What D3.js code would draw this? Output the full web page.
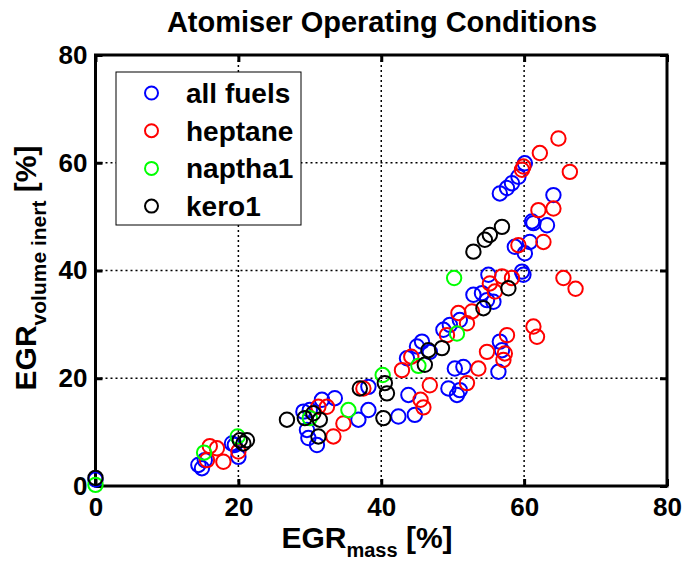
<!DOCTYPE html>
<html>
<head>
<meta charset="utf-8">
<script src="https://cdn.jsdelivr.net/npm/d3@7"></script>
<style>
  html, body { margin: 0; padding: 0; background: #fff; }
  svg text { font-family: Arial, "Liberation Sans", Helvetica, sans-serif; font-weight: bold; }
</style>
</head>
<body>
<svg id="chart" width="684" height="565"></svg>
<script>
// ---------------- data ----------------
const title = "Atomiser Operating Conditions";
const xTicks = [0, 20, 40, 60, 80];
const yTicks = [0, 20, 40, 60, 80];
const seriesNames = ["all fuels", "heptane", "naptha1", "kero1"];
const seriesColors = ["#0000ff", "#ff0000", "#00ff00", "#000000"];

const allFuels = [
  [0,1.2],
  [14.4,3.9],[14.9,3.3],[15.3,4.8],[19.5,7.6],[20.0,5.4],[19.1,7.9],
  [29.1,13.8],[30.0,14.1],[31.7,16.0],[33.5,16.3],
  [29.6,10.4],[29.8,8.9],[31.0,7.6],
  [36.8,12.3],[38.2,14.1],[42.4,12.9],[43.8,16.9],[44.7,13.2],
  [38.2,18.4],[45.0,25.9],[43.6,23.7],[45.7,26.8],[46.8,24.9],
  [49.4,18.1],[50.6,16.9],[51.0,17.8],[50.3,21.8],[51.5,22.1],[56.4,21.2],[56.6,26.8],[56.9,25.2],
  [48.7,29.0],[49.6,29.9],[51.0,30.8],[52.9,35.5],[54.1,35.8],[54.8,34.5],[55.7,34.2],[55.0,39.2],[59.9,39.2],
  [60.1,59.9],[59.2,57.4],[58.3,56.2],[57.6,55.3],[56.6,54.3],[64.1,54.0],
  [61.1,49.1],[61.3,48.8],[63.2,48.4],[60.8,45.3],[58.7,44.4],[60.1,43.2],[59.7,39.8]
];
const heptane = [
  [15.6,4.8],[16.0,7.4],[17.0,7.0],[17.9,4.5],[20.0,6.4],
  [31.2,14.7],[32.4,14.7],[33.3,9.2],[34.7,11.6],
  [37.5,18.1],[42.9,21.5],[44.2,24.0],
  [45.5,16.0],[45.9,14.6],[46.8,18.7],
  [52.0,19.1],[53.6,21.8],[54.8,24.9],[57.1,23.4],[57.3,24.6],[57.6,28.0],
  [49.2,28.0],[50.8,32.1],[52.0,30.2],[52.7,32.4],[55.2,37.6],[55.9,36.1],[56.9,38.9],[58.3,38.6],
  [61.3,29.6],[61.8,27.7],
  [64.8,64.5],[62.2,61.8],[66.4,58.3],[59.9,59.3],[59.7,58.7],[62.0,51.2],[64.1,51.5],
  [59.2,44.7],[62.7,45.3],[65.5,38.6],[67.2,36.6]
];
const naptha1 = [
  [0,0.2],[15.2,6.2],[19.9,9.2],[30.0,12.6],[35.4,14.1],[40.2,20.6],[45.2,22.3],[50.6,28.3],[50.2,38.6]
];
const kero1 = [
  [0,1.5],[20.2,8.5],[21.2,8.5],[20.7,7.9],
  [26.8,12.3],[29.3,12.6],[30.5,13.5],[31.4,12.3],[31.2,9.2],
  [37.0,18.1],[40.5,19.1],[40.8,17.2],[40.3,12.6],
  [46.1,22.5],[46.6,25.2],[48.5,25.6],[54.3,33.0],[57.8,36.7],
  [56.9,48.1],[55.2,46.6],[54.5,45.7],[52.9,43.5]
];
const seriesData = [allFuels, heptane, naptha1, kero1];

// ---------------- layout ----------------
const L = 95.5, R = 667, T = 55, B = 486;
const svg = d3.select("#chart");
const x = d3.scaleLinear().domain([0, 80]).range([L, R]);
const y = d3.scaleLinear().domain([0, 80]).range([B, T]);

// grid
const grid = svg.append("g");
grid.selectAll(".gx").data(xTicks.slice(1, -1)).enter().append("line")
  .attr("x1", d => x(d)).attr("x2", d => x(d)).attr("y1", T).attr("y2", B)
  .attr("stroke", "#000").attr("stroke-width", 1.5).attr("stroke-dasharray", "2,3");
grid.selectAll(".gy").data(yTicks.slice(1, -1)).enter().append("line")
  .attr("y1", d => y(d)).attr("y2", d => y(d)).attr("x1", L).attr("x2", R)
  .attr("stroke", "#000").attr("stroke-width", 1.5).attr("stroke-dasharray", "2,3");

// axes
function styleAxis(g) {
  g.select(".domain").remove();
  g.selectAll(".tick line").attr("stroke", "#000").attr("stroke-width", 3);
  g.selectAll(".tick text").attr("fill", "#000").style("font-size", "26px")
    .style("font-family", "Arial, 'Liberation Sans', sans-serif").style("font-weight", "bold");
}
svg.append("g").attr("transform", `translate(0,${B})`)
  .call(d3.axisBottom(x).tickValues(xTicks).tickSize(-7).tickPadding(12).tickFormat(d3.format("d")))
  .call(styleAxis);
svg.append("g").attr("transform", `translate(${L},0)`)
  .call(d3.axisLeft(y).tickValues(yTicks).tickSize(-7).tickPadding(8).tickFormat(d3.format("d")))
  .call(styleAxis);
svg.append("g").attr("transform", `translate(0,${T})`)
  .call(d3.axisTop(x).tickValues(xTicks).tickSize(-7).tickFormat(""))
  .call(styleAxis);
svg.append("g").attr("transform", `translate(${R},0)`)
  .call(d3.axisRight(y).tickValues(yTicks).tickSize(-7).tickFormat(""))
  .call(styleAxis);

// frame
svg.append("rect").attr("x", L).attr("y", T).attr("width", R - L).attr("height", B - T)
  .attr("fill", "none").attr("stroke", "#000").attr("stroke-width", 3);

// points
seriesData.forEach((data, i) => {
  svg.append("g").selectAll("circle").data(data).enter().append("circle")
    .attr("cx", d => x(d[0])).attr("cy", d => y(d[1])).attr("r", 7.2)
    .attr("fill", "none").attr("stroke", seriesColors[i]).attr("stroke-width", 2);
});

// legend
const lg = svg.append("g");
lg.append("rect").attr("x", 116).attr("y", 72).attr("width", 185).attr("height", 153)
  .attr("fill", "#fff").attr("stroke", "#000").attr("stroke-width", 1);
seriesNames.forEach((name, i) => {
  const cy = 93 + i * 37.7;
  lg.append("circle").attr("cx", 151.5).attr("cy", cy).attr("r", 6.5)
    .attr("fill", "none").attr("stroke", seriesColors[i]).attr("stroke-width", 2);
  lg.append("text").attr("x", 186).attr("y", cy + 10).style("font-size", "28px")
    .attr("fill", "#000").text(name);
});

// title
svg.append("text").attr("x", 382).attr("y", 32).attr("text-anchor", "middle")
  .style("font-size", "29px").attr("fill", "#000").text(title);

// x label
const xl = svg.append("text").attr("x", 367).attr("y", 548).attr("text-anchor", "middle")
  .style("font-size", "30px").attr("fill", "#000");
xl.append("tspan").text("EGR");
xl.append("tspan").attr("dy", 9).style("font-size", "20px").text("mass");
xl.append("tspan").attr("dy", -9).text(" [%]");

// y label
const yl = svg.append("text").attr("transform", "translate(36,268) rotate(-90)")
  .attr("text-anchor", "middle").style("font-size", "30px").attr("fill", "#000");
yl.append("tspan").text("EGR");
yl.append("tspan").attr("dy", 10).style("font-size", "21px").text("volume inert");
yl.append("tspan").attr("dy", -10).text(" [%]");
</script>
</body>
</html>
